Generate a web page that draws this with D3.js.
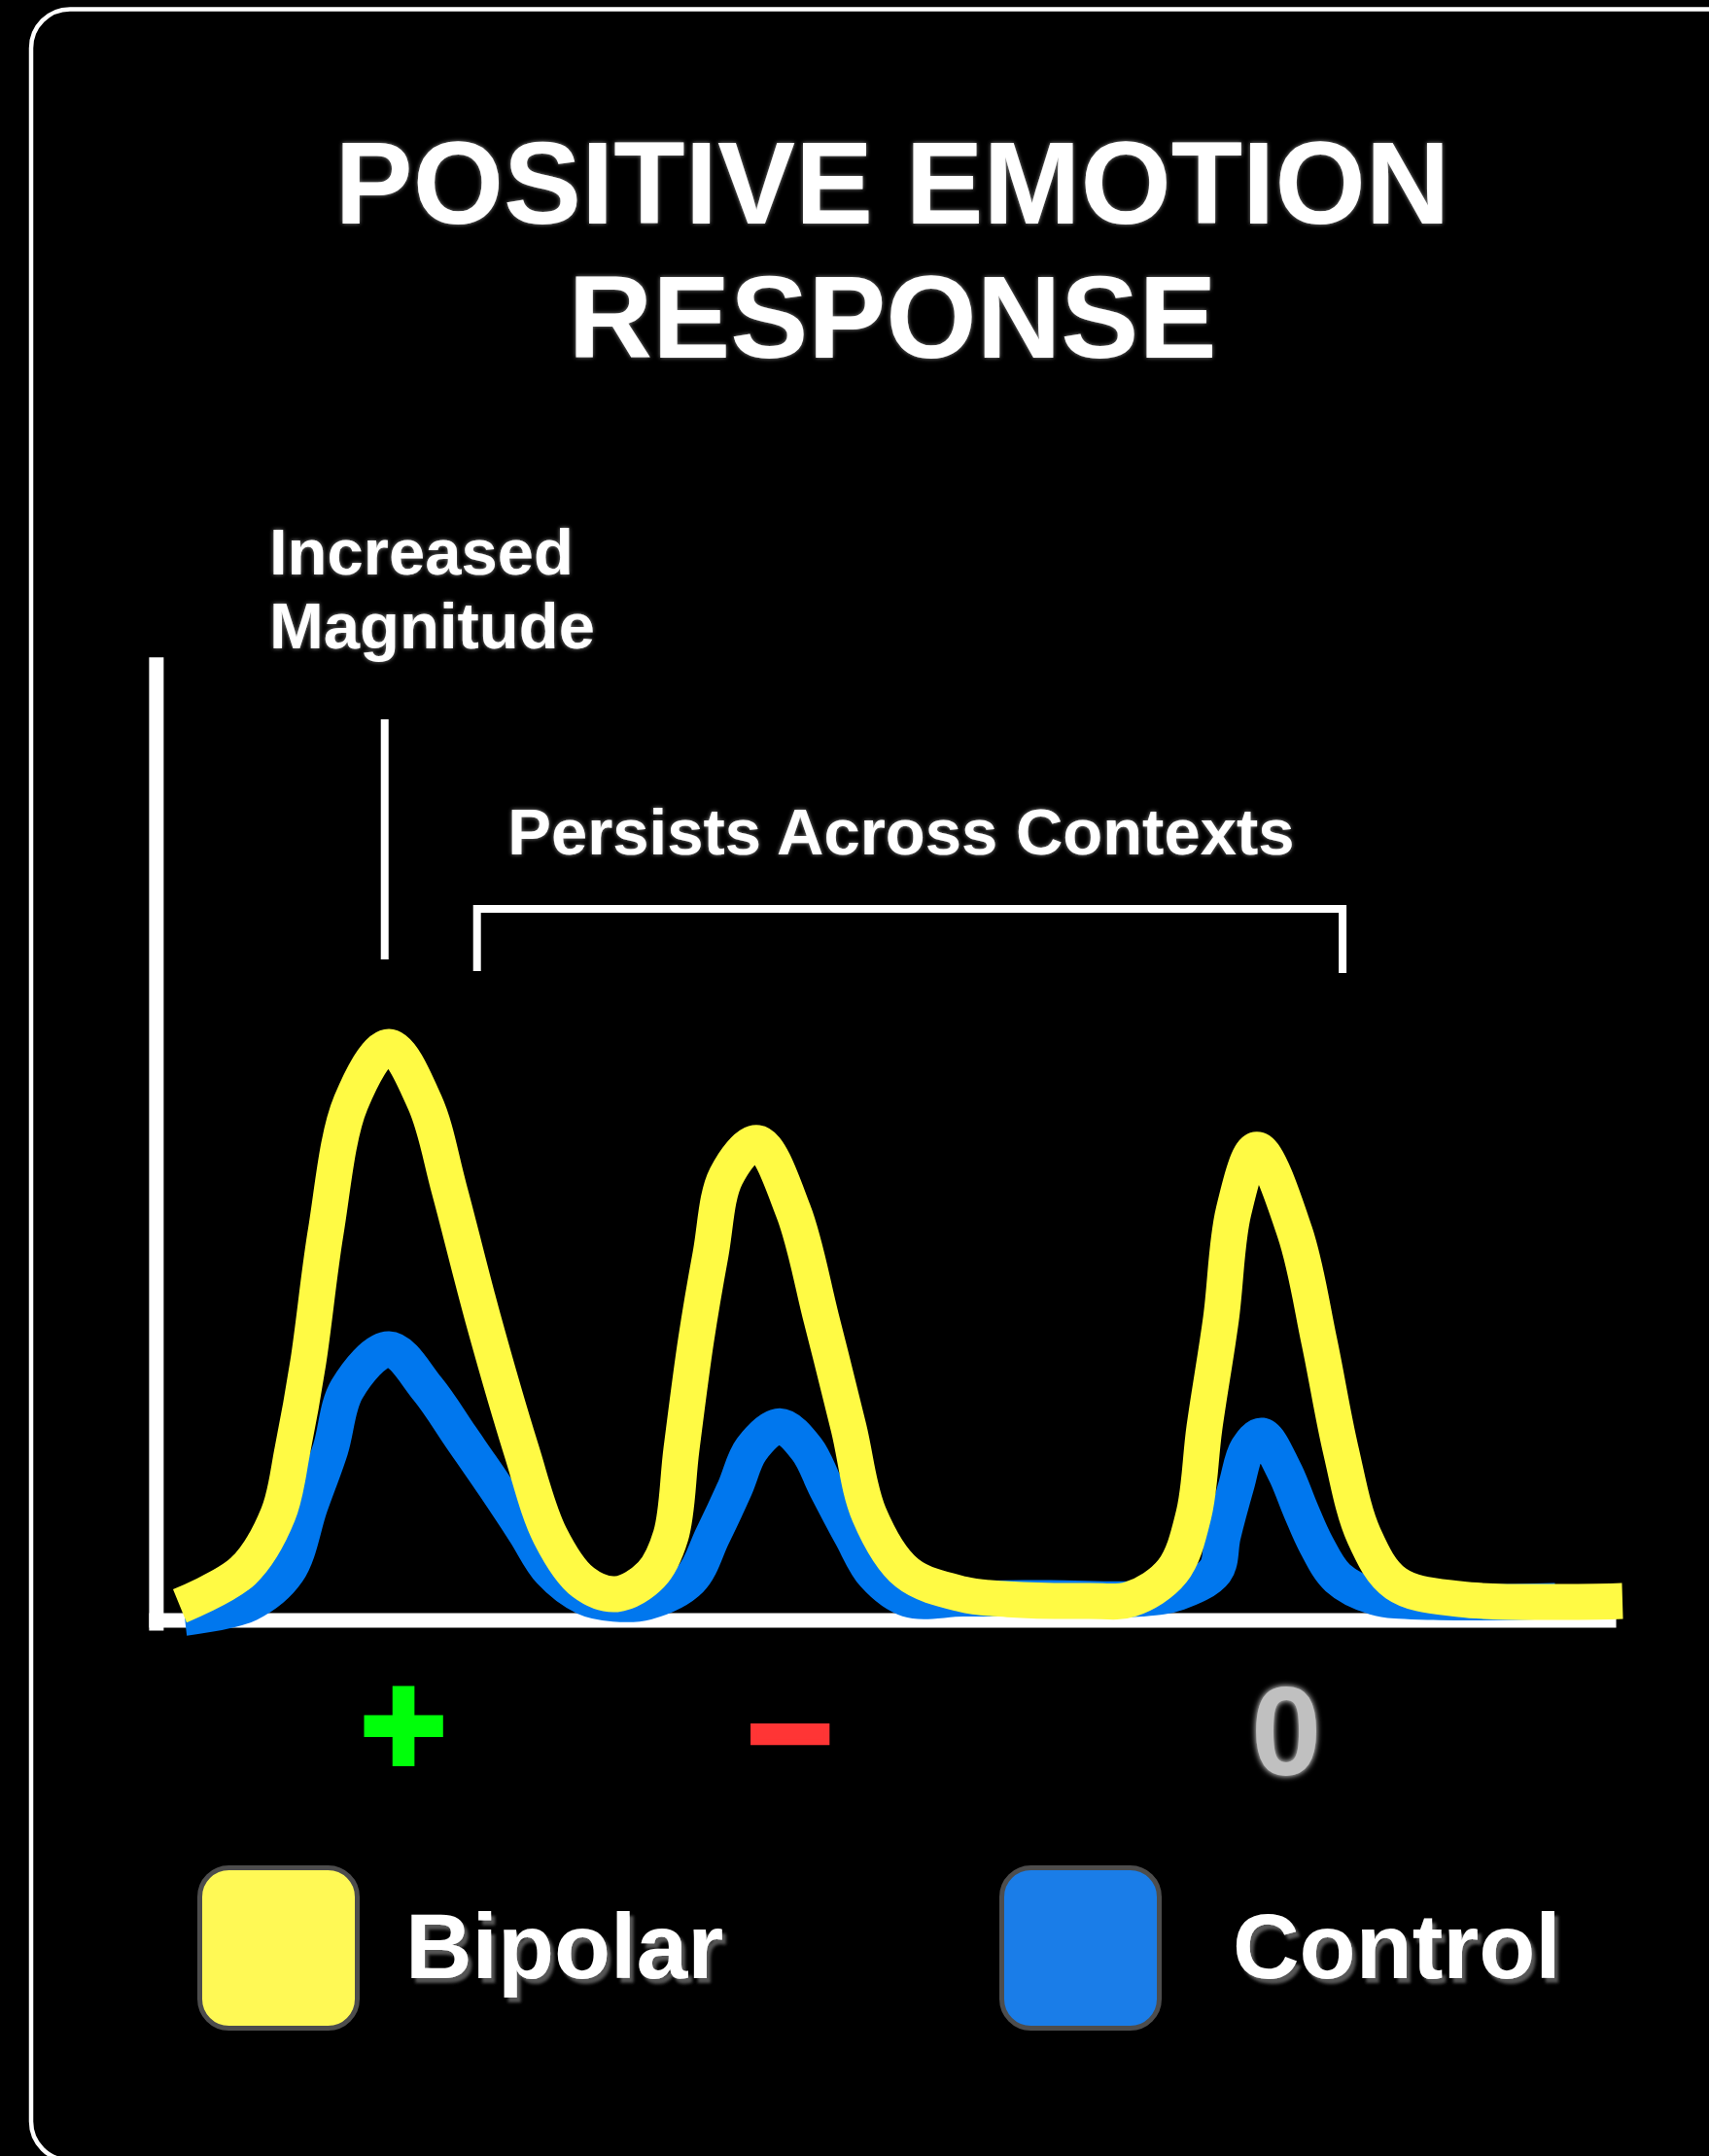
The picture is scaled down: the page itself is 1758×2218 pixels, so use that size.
<!DOCTYPE html>
<html><head><meta charset="utf-8">
<script src="https://cdn.jsdelivr.net/npm/d3@7"></script>
<style>html,body{margin:0;padding:0;background:#000;} svg{display:block}</style>
</head><body>
<svg id="chart" width="1758" height="2218"></svg>
<script>
// ---------- data ----------
const titleLines = ["POSITIVE EMOTION", "RESPONSE"];
const seriesNames = ["Bipolar", "Control"];
const contexts = ["+", "\u2212", "0"];
const contextT = [15.5, 42.3, 76.7];
const annotationMagnitude = ["Increased", "Magnitude"];
const annotationPersist = "Persists Across Contexts";
const magnitudeT = 14.2;
const persistRange = [20.6, 80.6];

const bipolarT = [0, 4.38, 6.81, 7.82, 8.89, 10.11, 11.86, 14.49, 16.98, 18.67, 21.02, 23.65, 25.67, 27.96, 30.26,
  32.68, 34.03, 34.77, 35.78, 36.79, 37.87, 40.03, 42.52, 44.47, 46.36, 47.78, 50.40, 54.25, 57.41, 62.94, 65.90,
  68.80, 70.28, 71.02, 72.17, 73.05, 74.66, 77.29, 78.98, 80.46, 82.08, 84.30, 88.75, 100];
const bipolarR = [0.5, 6.7, 16.8, 28.4, 43.8, 67.0, 90.1, 100, 90.1, 74.7, 51.6, 28.4, 13.0, 4.7, 2.6,
  6.1, 13.0, 28.4, 47.8, 63.1, 77.0, 82.9, 70.8, 51.6, 32.2, 16.8, 6.4, 2.6, 1.7, 1.4, 1.7,
  6.7, 16.8, 32.2, 51.6, 70.8, 81.7, 67.0, 47.6, 28.4, 13.0, 4.5, 1.7, 1.4];

const controlT = [0.34, 4.78, 7.48, 9.03, 10.44, 11.59, 14.49, 17.18, 19.47, 21.83, 23.92, 25.67, 28.03, 30.12,
  32.35, 35.38, 36.93, 38.48, 39.62, 41.58, 43.46, 44.81, 46.56, 48.11, 50.47, 54.31, 60.31, 66.64, 69.20,
  71.77, 72.30, 73.25, 73.99, 75.0, 76.55, 77.70, 78.77, 80.26, 82.82, 86.93, 95.35];
const controlR = [-1.6, 0.9, 6.7, 18.3, 28.4, 39.1, 46.2, 39.1, 30.6, 21.8, 13.7, 6.7, 2.1, 0.9,
  1.2, 5.2, 13.0, 21.5, 28.4, 32.5, 28.4, 21.5, 13.0, 6.1, 1.7, 1.8, 1.9, 1.8, 2.9,
  6.7, 13.0, 22.1, 28.4, 30.8, 24.6, 17.5, 11.4, 5.5, 2.1, 1.2, 1.4];

// ---------- styles ----------
const FONT = "'Liberation Sans', Arial, Helvetica, sans-serif";
const lineColors = {Bipolar: "#fffa44", Control: "#0077ee"};
const swatchColors = {Bipolar: "#fff955", Control: "#1a7de8"};
const contextColors = ["#00ff0a", "#ff3535", "#c0c0c0"];

const svg = d3.select("#chart");
const defs = svg.append("defs");

function glow(id, color, sd) {
  const f = defs.append("filter").attr("id", id).attr("x", "-20%").attr("y", "-30%").attr("width", "140%").attr("height", "160%");
  f.append("feGaussianBlur").attr("in", "SourceAlpha").attr("stdDeviation", sd).attr("result", "b");
  f.append("feFlood").attr("flood-color", color).attr("result", "c");
  f.append("feComposite").attr("in", "c").attr("in2", "b").attr("operator", "in").attr("result", "g");
  const m = f.append("feMerge");
  m.append("feMergeNode").attr("in", "g");
  m.append("feMergeNode").attr("in", "SourceGraphic");
}
glow("glow", "#8a8a8a", 2);
glow("glow0", "#ffffff", 3);
(function(){
  const f = defs.append("filter").attr("id", "shadow").attr("x", "-20%").attr("y", "-30%").attr("width", "140%").attr("height", "160%");
  f.append("feGaussianBlur").attr("in", "SourceAlpha").attr("stdDeviation", 1.5).attr("result", "b");
  f.append("feOffset").attr("in", "b").attr("dx", 4).attr("dy", 5).attr("result", "o");
  f.append("feFlood").attr("flood-color", "#555").attr("result", "c");
  f.append("feComposite").attr("in", "c").attr("in2", "o").attr("operator", "in").attr("result", "g");
  const m = f.append("feMerge");
  m.append("feMergeNode").attr("in", "g");
  m.append("feMergeNode").attr("in", "SourceGraphic");
})();

// background and panel
svg.append("rect").attr("width", 1758).attr("height", 2218).attr("fill", "#000");
svg.append("rect").attr("x", 32).attr("y", 9.5).attr("width", 1800).attr("height", 2213)
  .attr("rx", 40).attr("fill", "#000").attr("stroke", "#fff").attr("stroke-width", 4.5);

// title
svg.append("g").selectAll("text").data(titleLines).join("text")
  .attr("x", 918).attr("y", (d, i) => 230 + i * 138)
  .attr("text-anchor", "middle").attr("font-family", FONT).attr("font-weight", "bold")
  .attr("font-size", 120).attr("fill", "#fff").attr("filter", "url(#glow)")
  .text(d => d);

// scales
const x = d3.scaleLinear().domain([0, 100]).range([185, 1669]);
const y = d3.scaleLinear().domain([0, 100]).range([1655, 1077]);

// axes
const xAxisScale = x.copy().domain([-2.16, 99.53]).range([x(-2.16), x(99.53)]);
const yAxisScale = y.copy().domain([-3.8, 169.4]).range([y(-3.8), y(169.4)]);
const gx = svg.append("g").attr("transform", `translate(0,${y(-2)})`)
  .call(d3.axisBottom(xAxisScale).tickValues([]).tickSizeOuter(0));
const gy = svg.append("g").attr("transform", `translate(${x(-1.66)},0)`)
  .call(d3.axisLeft(yAxisScale).tickValues([]).tickSizeOuter(0));
[gx, gy].forEach(g => g.select(".domain").attr("stroke", "#fff").attr("stroke-width", 15).attr("stroke-linecap", "butt"));

// lines
const line = d3.line().x(d => x(d[0])).y(d => y(d[1])).curve(d3.curveCatmullRom.alpha(0.5));
const controlData = controlT.map((t, i) => [t, controlR[i]]);
const bipolarData = bipolarT.map((t, i) => [t, bipolarR[i]]);
svg.append("path").datum(controlData).attr("d", line).attr("fill", "none")
  .attr("stroke", lineColors.Control).attr("stroke-width", 37).attr("stroke-linejoin", "round");
svg.append("path").datum(bipolarData).attr("d", line).attr("fill", "none")
  .attr("stroke", lineColors.Bipolar).attr("stroke-width", 37).attr("stroke-linejoin", "round");

// annotations
svg.append("g").selectAll("text").data(annotationMagnitude).join("text")
  .attr("x", 277).attr("y", (d, i) => 591 + i * 76)
  .attr("font-family", FONT).attr("font-weight", "bold").attr("font-size", 67)
  .attr("fill", "#fff").attr("filter", "url(#glow)").text(d => d);
svg.append("line").attr("x1", x(magnitudeT)).attr("x2", x(magnitudeT)).attr("y1", 740).attr("y2", 987)
  .attr("stroke", "#fff").attr("stroke-width", 8);
svg.append("text").attr("x", (x(persistRange[0]) + x(persistRange[1])) / 2 - 9).attr("y", 879)
  .attr("text-anchor", "middle").attr("font-family", FONT).attr("font-weight", "bold").attr("font-size", 67)
  .attr("fill", "#fff").attr("filter", "url(#glow)").text(annotationPersist);
svg.append("path")
  .attr("d", `M${x(persistRange[0])},999V935H${x(persistRange[1])}V1001`)
  .attr("fill", "none").attr("stroke", "#fff").attr("stroke-width", 8).attr("stroke-linejoin", "miter");

// context labels
const ctx = svg.append("g");
ctx.selectAll("text").data(contexts).join("text")
  .attr("x", (d, i) => x(contextT[i]))
  .attr("y", (d, i) => i === 0 ? 1826 : i === 1 ? 1834 : 1826)
  .attr("text-anchor", "middle").attr("font-family", FONT).attr("font-weight", "bold")
  .attr("font-size", (d, i) => i < 2 ? 150 : 130)
  .attr("fill", (d, i) => contextColors[i])
  .attr("stroke", (d, i) => i < 2 ? contextColors[i] : "none")
  .attr("stroke-width", 6)
  .attr("filter", (d, i) => i === 2 ? "url(#glow0)" : null)
  .text(d => d);

// legend
const legendX = [203, 1028];
const lg = svg.append("g").selectAll("g").data(seriesNames).join("g")
  .attr("transform", (d, i) => `translate(${legendX[i]},1919)`);
lg.append("rect").attr("x", 2.5).attr("y", 2.5).attr("width", 162).attr("height", 165).attr("rx", 30)
  .attr("fill", d => swatchColors[d]).attr("stroke", "#4d4d4d").attr("stroke-width", 5);
lg.append("text").attr("x", (d, i) => i === 0 ? 214 : 240).attr("y", 116)
  .attr("font-family", FONT).attr("font-weight", "bold").attr("font-size", 95)
  .attr("fill", "#fff").attr("filter", "url(#shadow)").text(d => d);
</script>
</body></html>
